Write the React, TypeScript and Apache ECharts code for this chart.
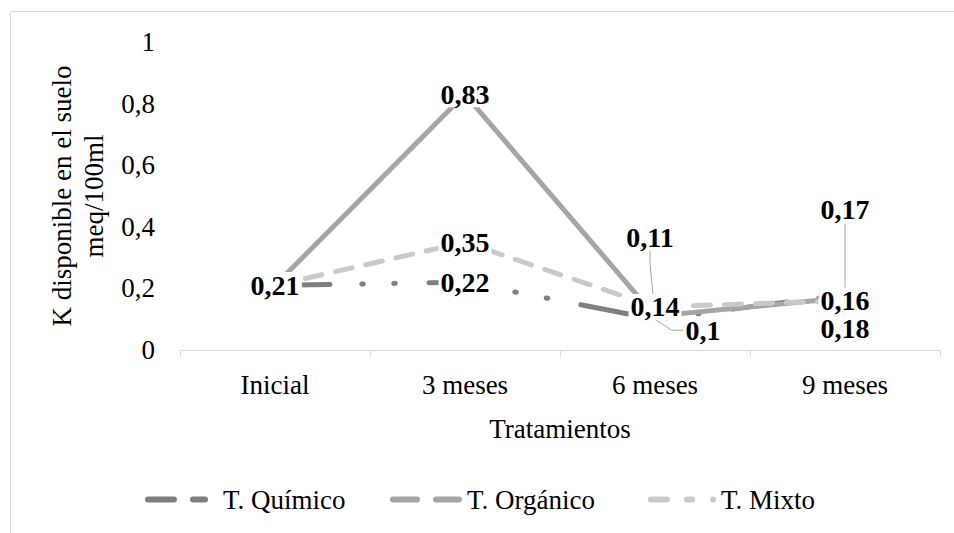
import React, { useEffect, useRef } from "react";
import * as echarts from "echarts";

// Potasio disponible por tratamiento
const categories = ["Inicial", "3 meses", "6 meses", "9 meses"];
const seriesNames = ["T. Químico", "T. Orgánico", "T. Mixto"];
const quimico = [0.21, 0.22, 0.1, 0.18];
const organico = [0.21, 0.83, 0.11, 0.17];
const mixto = [0.21, 0.35, 0.14, 0.16];
const yTicks = [0, 0.2, 0.4, 0.6, 0.8, 1];

// Labels dragged away from their points (dx, dy in px), with a guide line
const quimicoShift: [number, number][] = [[0, 0], [0, 0], [48, 11], [0, 34]];
const organicoShift: [number, number][] = [[0, 0], [0, 0], [-5, -79], [0, -88]];
const mixtoShift: [number, number][] = [[0, 0], [0, 0], [0, 0], [0, 0]];

const FONT = "Liberation Serif";
const COLORS = ["#7f7f7f", "#a5a5a5", "#c9c9c9"];

const fmt = (v: number) => String(v).replace(".", ",");

const ICONS = [
  "path://M3,0H29A3,3 0 0 1 29,6H3A3,3 0 0 1 3,0Z M48,0H60A3,3 0 0 1 60,6H48A3,3 0 0 1 48,0Z",
  "path://M3,0H27A3,3 0 0 1 27,6H3A3,3 0 0 1 3,0Z M46,0H69A3,3 0 0 1 69,6H46A3,3 0 0 1 46,0Z",
  "path://M3,0H19A3,3 0 0 1 19,6H3A3,3 0 0 1 3,0Z M39,0H44A3,3 0 0 1 44,6H39A3,3 0 0 1 39,0Z M65,0A3,3 0 0 1 65,6A3,3 0 0 1 65,0Z",
];

export default function App() {
  const ref = useRef<HTMLDivElement>(null);

  useEffect(() => {
    if (!ref.current) return;
    const chart = echarts.init(ref.current, null, { renderer: "svg" });

    const buildData = (vals: number[], shift: [number, number][]) =>
      vals.map((v, i) =>
        shift[i][0] !== 0 || shift[i][1] !== 0
          ? { value: v, labelLine: { show: true } }
          : { value: v }
      );

    const makeSeries = (
      name: string,
      vals: number[],
      shift: [number, number][],
      color: string,
      lineType: any
    ) => ({
      type: "line",
      name,
      data: buildData(vals, shift),
      color,
      symbol: "circle",
      symbolSize: 2,
      showSymbol: true,
      itemStyle: { color, borderWidth: 0 },
      lineStyle: { color, width: 5, type: lineType, cap: "round", join: "round" },
      label: {
        show: true,
        position: "inside",
        formatter: (p: any) => fmt(p.value),
        fontFamily: FONT,
        fontWeight: "bold",
        fontSize: 28,
        color: "#000",
        backgroundColor: "#fff",
        padding: [0, 2],
        lineHeight: 26,
      },
      labelLine: {
        show: false,
        length2: 12,
        lineStyle: { color: "#a6a6a6", width: 1 },
      },
      labelLayout: (p: any) => {
        const s = shift[p.dataIndex];
        return { dx: s[0], dy: s[1] };
      },
      emphasis: { disabled: true },
    });

    const legendBase = {
      top: 481,
      itemHeight: 6,
      textStyle: { fontFamily: FONT, fontSize: 27, color: "#000" },
      itemStyle: { borderWidth: 0 },
      selectedMode: false,
    };

    chart.setOption({
      animation: false,
      backgroundColor: "#fff",
      graphic: [
        {
          type: "rect",
          shape: { x: 10.5, y: 11.5, width: 960, height: 540 },
          style: { fill: "none", stroke: "#d9d9d9", lineWidth: 1 },
          silent: true,
        },
      ],
      grid: { left: 180, right: 14, top: 42, bottom: 183 },
      xAxis: {
        type: "category",
        data: categories,
        boundaryGap: true,
        axisLine: { lineStyle: { color: "#d9d9d9", width: 1 } },
        axisTick: { show: true, length: 7, lineStyle: { color: "#d9d9d9" } },
        axisLabel: { fontFamily: FONT, fontSize: 27, color: "#000", margin: 21 },
        name: "Tratamientos",
        nameLocation: "middle",
        nameGap: 65,
        nameTextStyle: { fontFamily: FONT, fontSize: 27, color: "#000" },
      },
      yAxis: {
        type: "value",
        min: yTicks[0],
        max: yTicks[yTicks.length - 1],
        interval: yTicks[1] - yTicks[0],
        axisLine: { show: false },
        axisTick: { show: false },
        splitLine: { show: false },
        axisLabel: {
          fontFamily: FONT,
          fontSize: 27,
          color: "#000",
          margin: 25,
          formatter: (v: number) => fmt(v),
        },
        name: "K disponible en el suelo\nmeq/100ml",
        nameLocation: "middle",
        nameRotate: 90,
        nameGap: 66,
        nameTextStyle: { fontFamily: FONT, fontSize: 27, color: "#000", lineHeight: 32 },
      },
      legend: [
        {
          ...legendBase,
          left: 140,
          itemWidth: 63,
          data: [{ name: seriesNames[0], icon: ICONS[0] }],
          textStyle: { ...legendBase.textStyle, padding: [0, 0, 0, 10] },
        },
        {
          ...legendBase,
          left: 385,
          itemWidth: 72,
          data: [{ name: seriesNames[1], icon: ICONS[1] }],
        },
        {
          ...legendBase,
          left: 643,
          itemWidth: 68,
          data: [{ name: seriesNames[2], icon: ICONS[2] }],
        },
      ],
      series: [
        makeSeries(seriesNames[0], quimico, quimicoShift, COLORS[0], [55, 31.75, 1.5, 30.5, 1.5, 33.75]),
        makeSeries(seriesNames[1], organico, organicoShift, COLORS[1], "solid"),
        makeSeries(seriesNames[2], mixto, mixtoShift, COLORS[2], [17, 14]),
      ],
    });

    return () => chart.dispose();
  }, []);

  return (
    <div
      ref={ref}
      style={{ position: "fixed", left: 0, top: 0, width: 954, height: 533, background: "#fff" }}
    />
  );
}
